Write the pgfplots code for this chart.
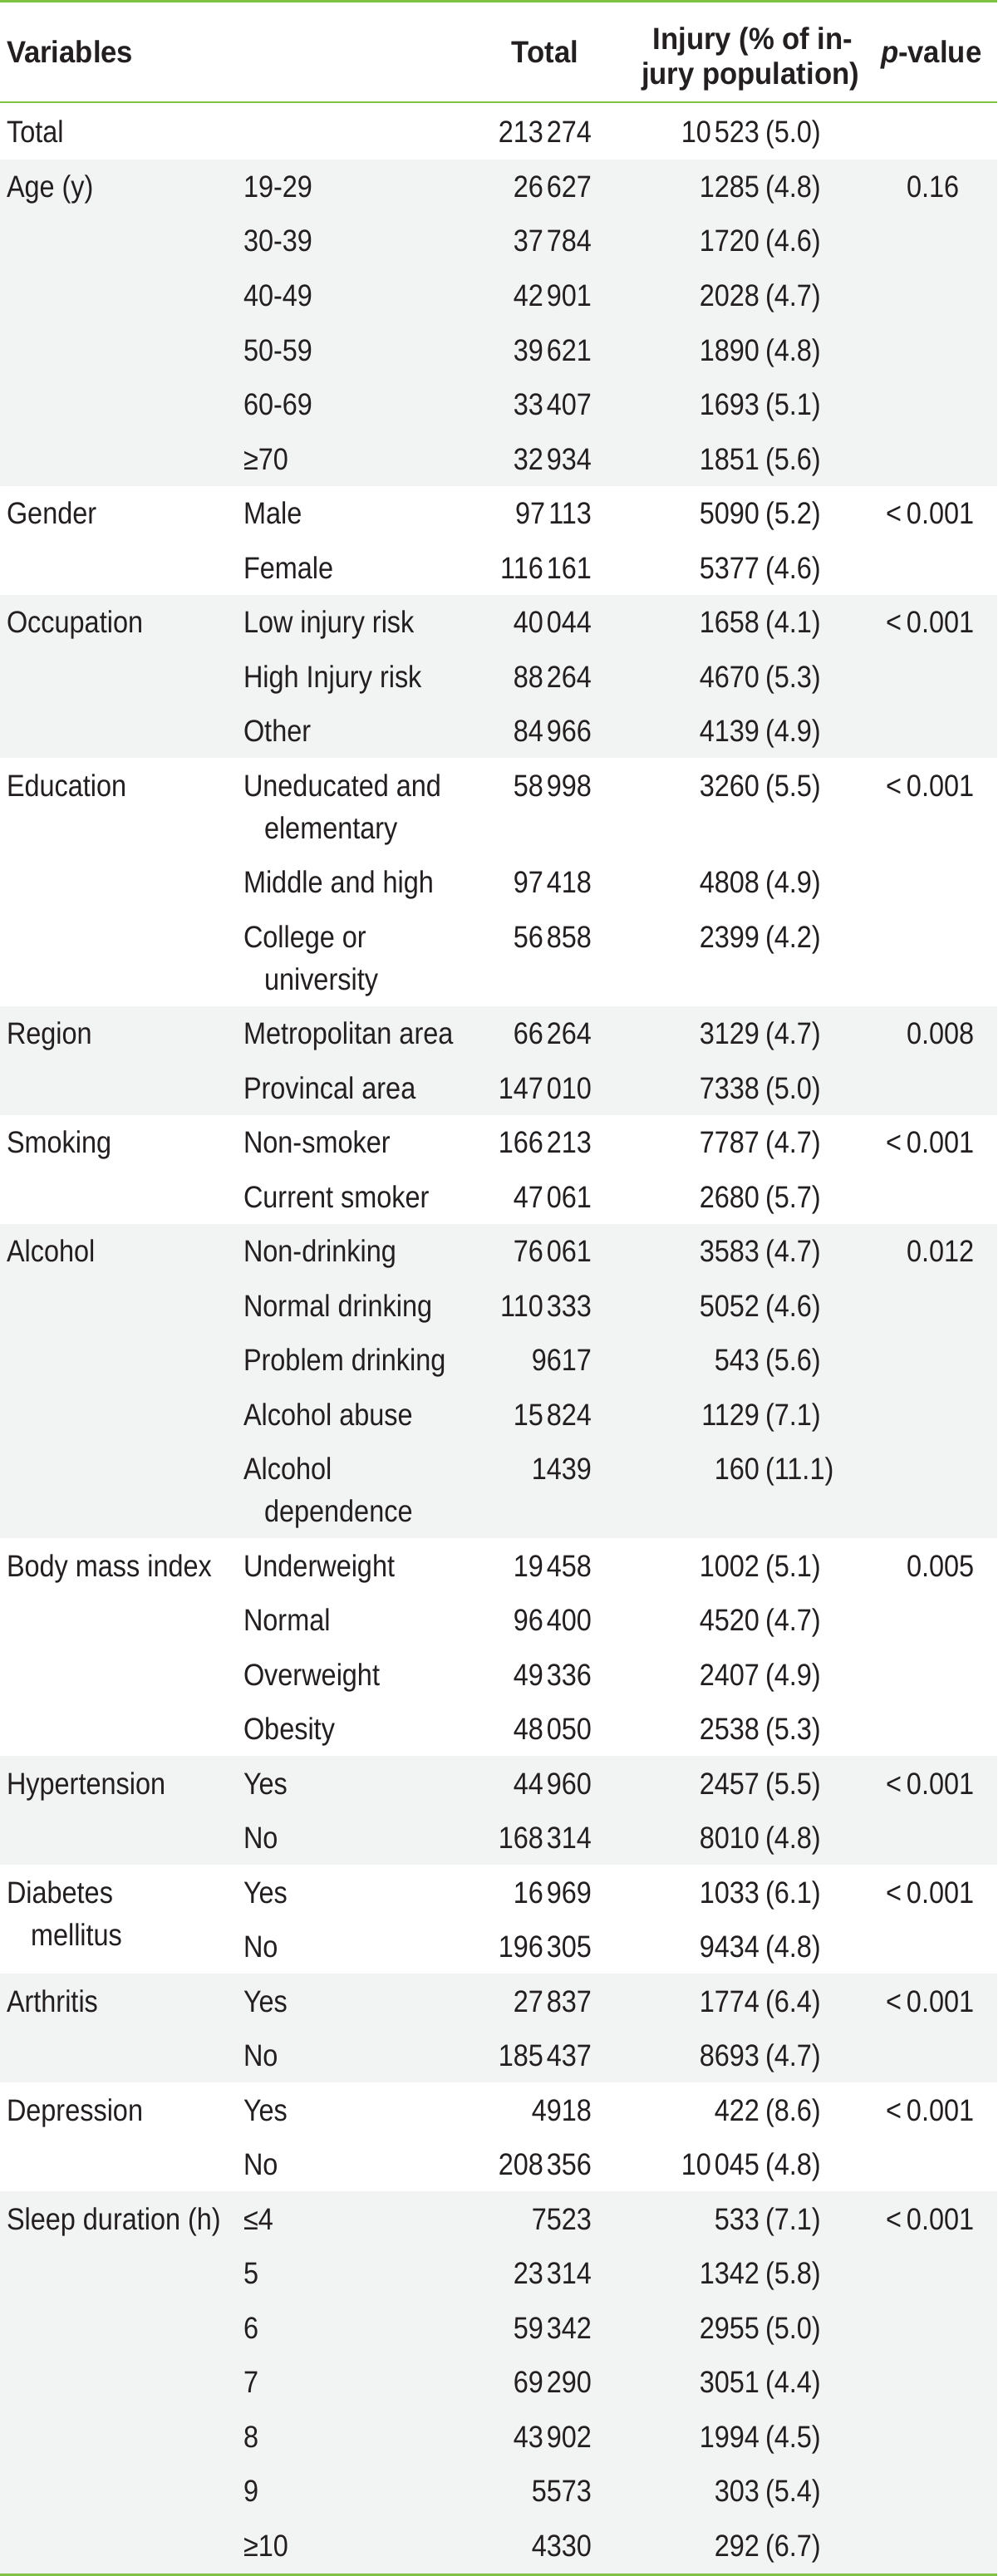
\documentclass[border=0pt]{standalone}
\usepackage{fontspec}
\setmainfont{Liberation Sans}[FakeStretch=0.88]
\newfontfamily\hfont{Liberation Sans}[FakeStretch=0.94]
\usepackage{pgfplots}
\usepackage{pgfplotstable}
\pgfplotsset{compat=1.18}
\definecolor{tgreen}{RGB}{128,194,66}
\definecolor{tshade}{RGB}{242,244,243}
\definecolor{ttext}{RGB}{35,31,32}
\newcommand\tf{\fontsize{37}{44}\selectfont}
\newcommand\hf{\hfont\bfseries\fontsize{37}{44}\selectfont}

\pgfplotstableread[col sep=semicolon]{
x;y;label
8;76;Variables
1060;76;\textit{p}-value
}\headW
\pgfplotstableread[col sep=semicolon]{
x;y;label
696;76;Total
}\headE
\pgfplotstableread[col sep=semicolon]{
x;y;label
906;60;Injury (\% of in-
903;102;jury population)
}\headC

\pgfplotstableread[col sep=semicolon]{
x;y;label
8;172;Total
8;237.5;Age (y)
293;237.5;19-29
293;303;30-39
293;368.5;40-49
293;434;50-59
293;499.5;60-69
293;565;≥70
8;630.5;Gender
293;630.5;Male
293;696;Female
8;761.5;Occupation
293;761.5;Low injury risk
293;827;High Injury risk
293;892.5;Other
8;958;Education
293;958;Uneducated and
318;1009;elementary
293;1074.5;Middle and high
293;1140;College or
318;1191;university
8;1256.5;Region
293;1256.5;Metropolitan area
293;1322;Provincal area
8;1387.5;Smoking
293;1387.5;Non-smoker
293;1453;Current smoker
8;1518.5;Alcohol
293;1518.5;Non-drinking
293;1584;Normal drinking
293;1649.5;Problem drinking
293;1715;Alcohol abuse
293;1780.5;Alcohol
318;1831.5;dependence
8;1897;Body mass index
293;1897;Underweight
293;1962.5;Normal
293;2028;Overweight
293;2093.5;Obesity
8;2159;Hypertension
293;2159;Yes
293;2224.5;No
8;2290;Diabetes
37;2341;mellitus
293;2290;Yes
293;2355.5;No
8;2421;Arthritis
293;2421;Yes
293;2486.5;No
8;2552;Depression
293;2552;Yes
293;2617.5;No
8;2683;Sleep duration (h)
293;2683;≤4
293;2748.5;5
293;2814;6
293;2879.5;7
293;2945;8
293;3010.5;9
293;3076;≥10
}\labeltab

\pgfplotstableread[col sep=semicolon]{
y;total;inj;pct
172;213274;10523;5.0
237.5;26627;1285;4.8
303;37784;1720;4.6
368.5;42901;2028;4.7
434;39621;1890;4.8
499.5;33407;1693;5.1
565;32934;1851;5.6
630.5;97113;5090;5.2
696;116161;5377;4.6
761.5;40044;1658;4.1
827;88264;4670;5.3
892.5;84966;4139;4.9
958;58998;3260;5.5
1074.5;97418;4808;4.9
1140;56858;2399;4.2
1256.5;66264;3129;4.7
1322;147010;7338;5.0
1387.5;166213;7787;4.7
1453;47061;2680;5.7
1518.5;76061;3583;4.7
1584;110333;5052;4.6
1649.5;9617;543;5.6
1715;15824;1129;7.1
1780.5;1439;160;11.1
1897;19458;1002;5.1
1962.5;96400;4520;4.7
2028;49336;2407;4.9
2093.5;48050;2538;5.3
2159;44960;2457;5.5
2224.5;168314;8010;4.8
2290;16969;1033;6.1
2355.5;196305;9434;4.8
2421;27837;1774;6.4
2486.5;185437;8693;4.7
2552;4918;422;8.6
2617.5;208356;10045;4.8
2683;7523;533;7.1
2748.5;23314;1342;5.8
2814;59342;2955;5.0
2879.5;69290;3051;4.4
2945;43902;1994;4.5
3010.5;5573;303;5.4
3076;4330;292;6.7
}\numtab

% p-values given as "< p"
\pgfplotstableread[col sep=semicolon]{
y;p
630.5;0.001
761.5;0.001
958;0.001
1387.5;0.001
2159;0.001
2290;0.001
2421;0.001
2552;0.001
2683;0.001
}\pless
% p-values given exactly
\pgfplotstableread[col sep=semicolon]{
y;p
237.5;0.16
1256.5;0.008
1518.5;0.012
1897;0.005
}\pexact

\pgfplotsset{
  txt/.style={only marks, mark=*, mark size=0pt, mark options={draw=none, fill=none},
    point meta=explicit symbolic},
}
\tikzset{
  tnode/.style={inner sep=0pt, outer sep=0pt, font=\tf, text=ttext},
  hnode/.style={inner sep=0pt, outer sep=0pt, font=\hf, text=ttext},
}
\newcommand\cnt[1]{\pgfmathprintnumber[fixed,precision=0,1000 sep={\hspace{4bp}},min exponent for 1000 sep=4,assume math mode=true]{#1}}

\begin{document}
\begin{tikzpicture}
\begin{axis}[
  scale only axis, width=1200bp, height=3100bp,
  xmin=0, xmax=1200, ymin=0, ymax=3100, y dir=reverse,
  hide axis, clip=false,
]
% background
\addplot[fill=white, draw=none] coordinates {(0,0) (1200,0) (1200,3100) (0,3100)};
% shaded groups
\addplot[fill=tshade, draw=none] coordinates {(0,191.75) (1200,191.75) (1200,584.75) (0,584.75)};
\addplot[fill=tshade, draw=none] coordinates {(0,715.75) (1200,715.75) (1200,912.25) (0,912.25)};
\addplot[fill=tshade, draw=none] coordinates {(0,1210.75) (1200,1210.75) (1200,1341.75) (0,1341.75)};
\addplot[fill=tshade, draw=none] coordinates {(0,1472.75) (1200,1472.75) (1200,1851.25) (0,1851.25)};
\addplot[fill=tshade, draw=none] coordinates {(0,2113.25) (1200,2113.25) (1200,2244.25) (0,2244.25)};
\addplot[fill=tshade, draw=none] coordinates {(0,2375.25) (1200,2375.25) (1200,2506.25) (0,2506.25)};
\addplot[fill=tshade, draw=none] coordinates {(0,2637.25) (1200,2637.25) (1200,3097) (0,3097)};
% rules (as thin filled bands)
\addplot[fill=tgreen, draw=none] coordinates {(0,0) (1200,0) (1200,3) (0,3)};
\addplot[fill=tgreen, draw=none] coordinates {(0,121.75) (1200,121.75) (1200,124.25) (0,124.25)};
\addplot[fill=tgreen, draw=none] coordinates {(0,3096.5) (1200,3096.5) (1200,3100) (0,3100)};
% header
\addplot[txt, nodes near coords,
  every node near coord/.append style={hnode, anchor=base west},
] table[x=x, y=y, meta=label] {\headW};
\addplot[txt, nodes near coords,
  every node near coord/.append style={hnode, anchor=base east},
] table[x=x, y=y, meta=label] {\headE};
\addplot[txt, nodes near coords,
  every node near coord/.append style={hnode, anchor=base},
] table[x=x, y=y, meta=label] {\headC};
% labels
\addplot[txt, nodes near coords,
  every node near coord/.append style={tnode, anchor=base west},
] table[x=x, y=y, meta=label] {\labeltab};
% totals
\addplot[txt,
  nodes near coords={\cnt{\pgfplotspointmeta}},
  every node near coord/.append style={tnode, anchor=base east},
] table[x expr=712, y=y, meta=total] {\numtab};
% injury counts
\addplot[txt,
  nodes near coords={\cnt{\pgfplotspointmeta}},
  every node near coord/.append style={tnode, anchor=base east},
] table[x expr=914, y=y, meta=inj] {\numtab};
% injury percentages
\addplot[txt,
  nodes near coords={(\pgfplotspointmeta)},
  every node near coord/.append style={tnode, anchor=base west},
] table[x expr=921, y=y, meta=pct] {\numtab};
% p-values
\addplot[txt,
  nodes near coords={\llap{<\hspace{6bp}}\pgfplotspointmeta},
  every node near coord/.append style={tnode, anchor=base west},
] table[x expr=1091, y=y, meta=p] {\pless};
\addplot[txt,
  nodes near coords={\pgfplotspointmeta},
  every node near coord/.append style={tnode, anchor=base west},
] table[x expr=1091, y=y, meta=p] {\pexact};
\end{axis}
\end{tikzpicture}
\end{document}
